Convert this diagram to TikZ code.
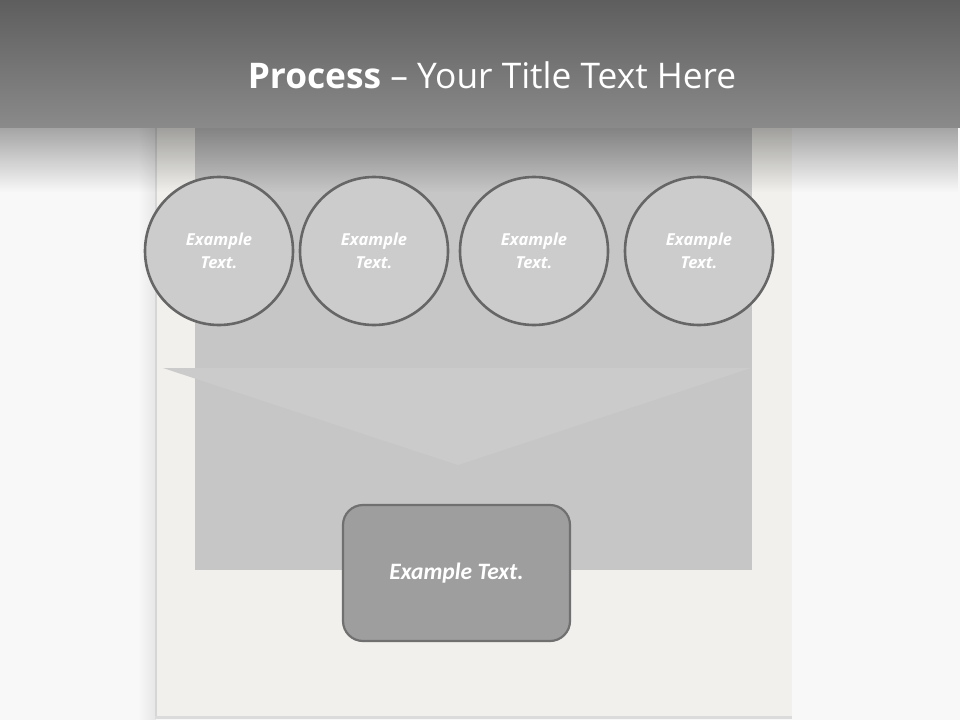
\documentclass[tikz,border=0pt]{standalone}
\usepackage{fontspec}
\setmainfont{Open Sans}
\newfontfamily\calib{Carlito}
\usetikzlibrary{fadings}
\definecolor{bgc}{HTML}{F8F8F8}
\definecolor{hdtop}{HTML}{5E5E5E}
\definecolor{hdbot}{HTML}{8A8A8A}
\definecolor{paper}{HTML}{F1F0EC}
\definecolor{inner}{HTML}{C6C6C6}
\definecolor{chev}{HTML}{CBCBCB}
\definecolor{circfill}{HTML}{CCCCCC}
\definecolor{circline}{HTML}{666666}
\definecolor{boxfill}{HTML}{9E9E9E}
\definecolor{boxline}{HTML}{707070}
\tikzfading[name=fadedown, top color=transparent!66, bottom color=transparent!100]
\tikzfading[name=fadeleft, left color=transparent!100, right color=transparent!93]
\tikzset{
  stepcirc/.style={circle, draw=circline, line width=2.6pt, fill=circfill, minimum size=148pt, inner sep=0pt,
    font=\fontsize{16.5}{23}\selectfont\bfseries\itshape, text=white, align=center},
  resultbox/.style={rectangle, rounded corners=20pt, draw=boxline, line width=2.2pt, fill=boxfill,
    minimum width=227pt, minimum height=136pt, inner sep=0pt,
    font=\calib\fontsize{23.5}{26}\selectfont\bfseries\itshape, text=white}
}
\begin{document}
\begin{tikzpicture}[x=1pt,y=-1pt]
\useasboundingbox (0,0) rectangle (960,720);
\fill[bgc] (0,0) rectangle (960,720);
% paper shadow
\fill[black, path fading=fadeleft] (138,128) rectangle (156,720);
\fill[black!16] (155,128) rectangle (156.5,719);
\fill[black!14] (155,716) rectangle (792,719);
\fill[paper] (156.5,128) rectangle (792,716);
% inner panel
\fill[inner] (195,128) rectangle (752,570);
% chevron
\fill[chev] (163,368) -- (751,368) -- (458,465) -- cycle;
% header shadow fade
\fill[black, path fading=fadedown] (0,127) rectangle (960,192);
% header
\shade[top color=hdtop, bottom color=hdbot] (0,0) rectangle (960,127);
\node[text=white, font=\fontsize{35.3}{40}\selectfont, anchor=base] (title) at (492,88)
  {\textbf{Process} – Your Title Text Here};
% circles
\node[stepcirc] (c1) at (219,251) {Example\\Text.};
\node[stepcirc] (c2) at (374,251) {Example\\Text.};
\node[stepcirc] (c3) at (534,251) {Example\\Text.};
\node[stepcirc] (c4) at (699,251) {Example\\Text.};
% result box
\node[resultbox] (box) at (456.5,573) {Example Text.};
\end{tikzpicture}
\end{document}
